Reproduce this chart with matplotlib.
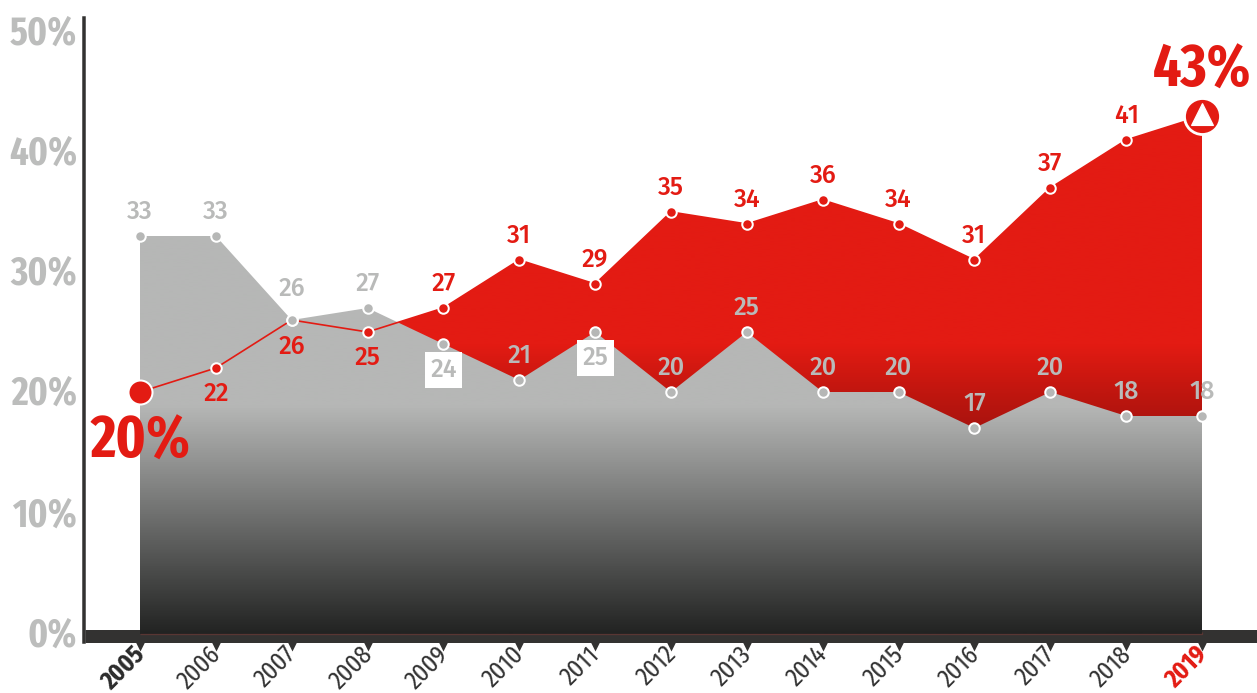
import matplotlib
matplotlib.use("Agg")
import matplotlib.pyplot as plt
import numpy as np
from matplotlib.colors import LinearSegmentedColormap
from matplotlib.ticker import FuncFormatter
from matplotlib.transforms import ScaledTranslation
from matplotlib import font_manager as fm

years = [2005, 2006, 2007, 2008, 2009, 2010, 2011, 2012, 2013, 2014, 2015, 2016, 2017, 2018, 2019]
red_values = [20, 22, 26, 25, 27, 31, 29, 35, 34, 36, 34, 31, 37, 41, 43]
gray_values = [33, 33, 26, 27, 24, 21, 25, 20, 25, 20, 20, 17, 20, 18, 18]
y_ticks = [0, 10, 20, 30, 40, 50]

RED = "#e31b13"
GRAY = "#b6b7b6"
LABEL_GRAY = "#bcbdbc"
DARK = "#333231"
W, H = 1257, 693
PX = 72 / 100  # points per pixel at dpi 100

names = {f.name for f in fm.fontManager.ttflist}


def pick(*candidates):
    for c in candidates:
        if c in names:
            return c
    return "Liberation Sans"


BIG_FONT = pick("Fira Sans Extra Condensed", "Roboto Condensed", "Liberation Sans Narrow")
YEAR_FONT = pick("Fira Sans Extra Condensed", "Roboto Condensed", "Liberation Sans Narrow")
LABEL_FONT = pick("Fira Sans", "Open Sans")

# pixel geometry of the plotting area
x0_px, step_px = 140.0, 75.857
zero_px, unit_px = 632.0, 12.0
left, right, top, bottom = 84.5, W, 18.0, 642.0

fig = plt.figure(figsize=(W / 100, H / 100), dpi=100, facecolor="white")
ax = fig.add_axes([left / W, 1 - bottom / H, (right - left) / W, (bottom - top) / H])
ax.set_facecolor("none")
xlim = (years[0] - (x0_px - left) / step_px, years[0] + (right - x0_px) / step_px)
ylim = ((zero_px - bottom) / unit_px, (zero_px - top) / unit_px)

for s in ("top", "right"):
    ax.spines[s].set_visible(False)
ax.spines["left"].set_linewidth(3.5 * PX)
ax.spines["left"].set_color(DARK)
ax.spines["bottom"].set_linewidth(13 * PX)
ax.spines["bottom"].set_color(DARK)
ax.spines["bottom"].set_position(("outward", -6.5 * PX))
ax.spines["bottom"].set_capstyle("butt")


def gradient_area(values, stops, z, edge=None):
    """Area under a series filled by a vertical gradient; ends slightly below zero."""
    floor = -2.2 / unit_px
    coll = ax.fill_between(years, values, floor, facecolor="none", edgecolor="none", zorder=z)
    cmap = LinearSegmentedColormap.from_list("g", stops)
    grad = np.linspace(1, 0, 512).reshape(-1, 1)
    im = ax.imshow(grad, cmap=cmap, vmin=0, vmax=1, aspect="auto",
                   extent=(years[0], years[-1], floor, 50), origin="upper", zorder=z,
                   interpolation="bilinear")
    im.set_clip_path(coll.get_paths()[0], ax.transData)
    if edge:
        ax.plot([years[0], years[-1], years[-1]], [floor, floor, 0], color=edge, lw=0.9,
                alpha=0.55, zorder=z + 0.5, solid_capstyle="butt")


# gradient stops are given from the bottom (value 0) to the top (value 50)
gradient_area(red_values,
              [(0.0, "#2a1513"), (0.34, "#a8130e"), (0.40, "#c0160f"), (0.48, RED), (1.0, RED)], 3)
gradient_area(gray_values,
              [(0.0, "#222322"), (0.378, GRAY), (1.0, GRAY)], 4, edge="#7a3a36")

ax.plot(years, red_values, color=RED, lw=1.2, zorder=5)
ax.plot(years[1:-1], red_values[1:-1], ls="none", marker="o", ms=10.5 * PX, mfc=RED, mec="white",
        mew=2 * PX, zorder=6)
ax.plot(years, gray_values, ls="none", marker="o", ms=10.5 * PX, mfc=GRAY, mec="white",
        mew=2 * PX, zorder=6)

# emphasised end points
ax.plot(years[0], red_values[0], marker="o", ms=24 * PX, mfc=RED, mec="white", mew=2 * PX, zorder=7)
ax.plot(years[-1], red_values[-1], marker="o", ms=36 * PX, mfc=RED, mec="white", mew=2.8 * PX,
        zorder=7, clip_on=False)
ax.plot(years[-1], red_values[-1] + 0.2, marker="^", ms=22 * PX, mfc="white", mec="white", mew=0.8,
        zorder=8)

ax.set_xlim(xlim)
ax.set_ylim(ylim)


def value_label(x, y, text, color, dy_px, boxed=False):
    kw = {}
    if boxed:
        kw["bbox"] = dict(boxstyle="square,pad=0.22", fc="white", ec="none")
    ax.annotate(text, (x, y), xytext=(0, -dy_px * PX), textcoords="offset points",
                ha="center", va="center", color=color, fontsize=25 * PX,
                fontfamily=LABEL_FONT, fontweight="medium", zorder=9, **kw)


red_offsets = {2007: 27, 2008: 26, 2006: 26}
for yr, v in list(zip(years, red_values))[1:-1]:
    value_label(yr, v, str(v), RED, red_offsets.get(yr, -24))

gray_offsets = {2007: -31, 2009: 26, 2011: 26}
gray_boxed = {2009, 2011}
for yr, v in zip(years, gray_values):
    value_label(yr, v, str(v), "#b9bab9", gray_offsets.get(yr, -24), boxed=yr in gray_boxed)

# headline numbers
big = dict(color=RED, fontsize=60 * PX, fontfamily=BIG_FONT, fontweight="bold", ha="center",
           va="center", zorder=10)
ax.annotate(f"{red_values[0]}%", (years[0], red_values[0]), xytext=(0, -50 * PX),
            textcoords="offset points", **big)
ax.annotate(f"{red_values[-1]}%", (years[-1], red_values[-1]), xytext=(0, 45 * PX),
            textcoords="offset points", annotation_clip=False, **big)

# axes
ax.set_yticks(y_ticks)
ax.yaxis.set_major_formatter(FuncFormatter(lambda v, _: f"{int(v)}%"))
ax.tick_params(axis="y", length=0, pad=7.5 * PX, labelcolor=LABEL_GRAY)
y_nudge_px = {50: 3, 40: 3, 30: 3, 20: 3, 10: 1, 0: 0}
for t, v in zip(ax.get_yticklabels(), y_ticks):
    t.set_fontfamily(BIG_FONT)
    t.set_fontweight("bold")
    t.set_fontsize(39.5 * PX)
    t.set_transform(t.get_transform() + ScaledTranslation(0, y_nudge_px[v] / 100, fig.dpi_scale_trans))

ax.set_xticks(years)
ax.set_xticklabels([str(y) for y in years])
ax.tick_params(axis="x", length=0, pad=15 * PX)
for t, yr in zip(ax.get_xticklabels(), years):
    t.set_rotation(45)
    t.set_ha("right")
    t.set_va("center")
    t.set_rotation_mode("anchor")
    t.set_fontfamily(YEAR_FONT)
    t.set_fontsize(26.5 * PX)
    t.set_color("#333333")
    if yr == years[0]:
        t.set_fontweight("bold"); t.set_color("#2b2b2b"); t.set_fontsize(26 * PX)
    if yr == years[-1]:
        t.set_fontweight("bold"); t.set_color(RED); t.set_fontsize(26 * PX)
    t.set_transform(t.get_transform() + ScaledTranslation(1 / 100, 0, fig.dpi_scale_trans))

# small triangular tick marks under the band
tick_tr = ax.get_xaxis_transform() + ScaledTranslation(0, -4 / 100, fig.dpi_scale_trans)
ax.plot(years, [0] * len(years), ls="none", marker="v", ms=10 * PX, mfc=DARK, mec="none",
        transform=tick_tr, clip_on=False, zorder=2)

fig.savefig("out.png", dpi=100, facecolor="white")
